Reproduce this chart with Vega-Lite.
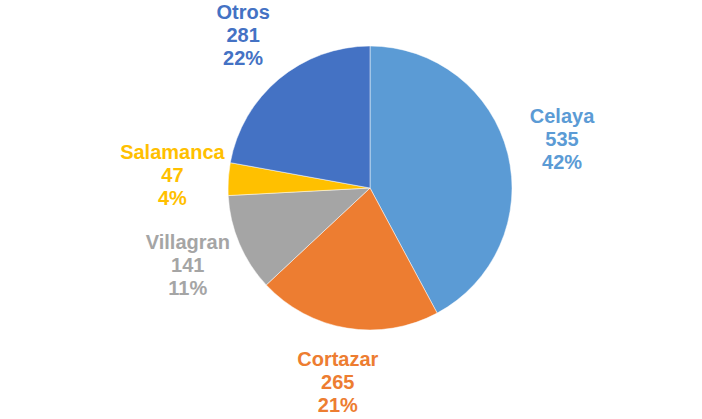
{
  "$schema": "https://vega.github.io/schema/vega-lite/v6.json",
  "width": 664,
  "height": 376,
  "autosize": {"type": "none"},
  "padding": {"left": 38, "right": 0, "top": 0, "bottom": 43},
  "background": "white",
  "view": {"stroke": null},
  "data": {
    "values": [
      {"zona": "Celaya", "valor": 535, "pct": "42%", "orden": 1},
      {"zona": "Cortazar", "valor": 265, "pct": "21%", "orden": 2},
      {"zona": "Villagran", "valor": 141, "pct": "11%", "orden": 3},
      {"zona": "Salamanca", "valor": 47, "pct": "4%", "orden": 4},
      {"zona": "Otros", "valor": 281, "pct": "22%", "orden": 5}
    ]
  },
  "transform": [
    {"calculate": "[datum.zona, format(datum.valor, 'd'), datum.pct]", "as": "etiqueta"}
  ],
  "encoding": {
    "theta": {"field": "valor", "type": "quantitative", "stack": true},
    "order": {"field": "orden", "type": "quantitative"},
    "color": {
      "field": "zona",
      "type": "nominal",
      "scale": {
        "domain": ["Celaya", "Cortazar", "Villagran", "Salamanca", "Otros"],
        "range": ["#5B9BD5", "#ED7D31", "#A5A5A5", "#FFC000", "#4472C4"]
      },
      "legend": null
    }
  },
  "layer": [
    {
      "mark": {"type": "arc", "outerRadius": 142, "stroke": "#ffffff", "strokeWidth": 0.5}
    },
    {
      "mark": {
        "type": "text",
        "radius": 198,
        "dy": -23,
        "font": "Liberation Sans",
        "fontWeight": "bold",
        "fontSize": 20,
        "lineHeight": 23,
        "align": "center",
        "baseline": "middle"
      },
      "encoding": {
        "text": {"field": "etiqueta"}
      }
    }
  ]
}
